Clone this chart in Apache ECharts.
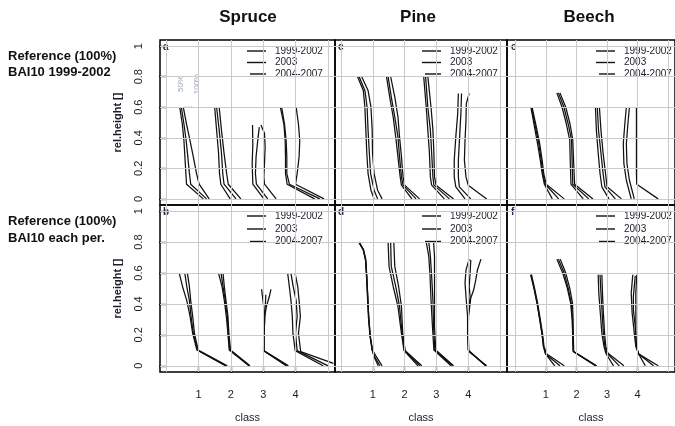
<!DOCTYPE html>
<html><head><meta charset="utf-8">
<script src="https://cdn.jsdelivr.net/npm/echarts@6/dist/echarts.min.js"></script>
<style>html,body{margin:0;padding:0;background:#fff}#c{width:675px;height:426px}</style>
</head><body><div id="c"></div><script>
const species = ['Spruce', 'Pine', 'Beech'];
const rowLabels = [['Reference (100%)', 'BAI10 1999-2002'], ['Reference (100%)', 'BAI10 each per.']];
const periods = ['1999-2002', '2003', '2004-2007'];
const panelLetters = ['a', 'c', 'e', 'b', 'd', 'f'];
const classTicks = [1, 2, 3, 4];
const yTicks = [0, 0.2, 0.4, 0.6, 0.8, 1];
const xGridVals = [0, 1, 2, 3, 4, 5];

// profiles: [class][period] -> [[x, relHeight], ...]
const spruceRef = [
 [[[0.42,0.6],[0.50,0.49],[0.55,0.38],[0.58,0.275],[0.61,0.166],[0.63,0.096],[1.15,0]],
  [[0.47,0.6],[0.55,0.49],[0.62,0.38],[0.67,0.275],[0.72,0.166],[0.76,0.096],[1.25,0]],
  [[0.53,0.6],[0.63,0.49],[0.74,0.38],[0.84,0.275],[0.94,0.166],[1.02,0.096],[1.33,0]]],
 [[[1.50,0.6],[1.56,0.45],[1.62,0.30],[1.65,0.166],[1.69,0.096],[1.98,0]],
  [[1.56,0.6],[1.64,0.45],[1.71,0.30],[1.75,0.166],[1.79,0.096],[2.16,0]],
  [[1.64,0.6],[1.71,0.45],[1.79,0.30],[1.87,0.166],[1.92,0.096],[2.31,0]]],
 [[[2.67,0.483],[2.68,0.36],[2.66,0.23],[2.68,0.096],[3.02,0]],
  [[2.88,0.47],[2.83,0.38],[2.78,0.275],[2.76,0.166],[2.79,0.096],[3.14,0]],
  [[2.93,0.483],[3.04,0.43],[3.06,0.34],[3.04,0.23],[3.02,0.144],[3.04,0.096],[3.40,0]]],
 [[[3.53,0.6],[3.64,0.49],[3.68,0.38],[3.69,0.275],[3.69,0.166],[3.74,0.096],[4.59,0]],
  [[3.57,0.6],[3.66,0.49],[3.71,0.38],[3.73,0.275],[3.73,0.166],[3.81,0.096],[4.75,0]],
  [[4.02,0.6],[4.09,0.49],[4.13,0.38],[4.11,0.275],[4.05,0.166],[4.00,0.096],[4.88,0]]]
];
const pineRef = [
 [[[0.52,0.8],[0.70,0.71],[0.75,0.6],[0.78,0.45],[0.81,0.3],[0.85,0.166],[0.94,0.057],[1.04,0]],
  [[0.57,0.8],[0.75,0.71],[0.82,0.6],[0.85,0.45],[0.89,0.3],[0.93,0.166],[1.04,0.057],[1.15,0]],
  [[0.65,0.8],[0.85,0.71],[0.94,0.6],[0.98,0.45],[0.99,0.3],[1.04,0.166],[1.15,0.057],[1.29,0]]],
 [[[1.43,0.8],[1.53,0.668],[1.64,0.537],[1.72,0.406],[1.79,0.275],[1.86,0.144],[1.90,0.09],[2.23,0]],
  [[1.48,0.8],[1.58,0.668],[1.69,0.537],[1.79,0.406],[1.84,0.275],[1.90,0.144],[1.95,0.09],[2.36,0]],
  [[1.56,0.8],[1.69,0.668],[1.79,0.537],[1.84,0.406],[1.90,0.275],[1.95,0.144],[2.00,0.09],[2.47,0]]],
 [[[2.60,0.8],[2.68,0.6],[2.73,0.45],[2.78,0.3],[2.81,0.144],[2.85,0.09],[3.25,0]],
  [[2.66,0.8],[2.73,0.6],[2.81,0.45],[2.85,0.3],[2.89,0.144],[2.92,0.09],[3.41,0]],
  [[2.73,0.8],[2.83,0.6],[2.89,0.45],[2.92,0.3],[2.94,0.144],[2.99,0.09],[3.54,0]]],
 [[[3.69,0.69],[3.67,0.56],[3.61,0.406],[3.56,0.253],[3.56,0.144],[3.61,0.079],[3.90,0]],
  [[3.79,0.69],[3.77,0.56],[3.73,0.406],[3.69,0.253],[3.69,0.144],[3.72,0.079],[4.08,0]],
  [[4.03,0.69],[3.94,0.624],[3.93,0.515],[3.90,0.384],[3.88,0.253],[3.93,0.144],[4.00,0.09],[4.58,0]]]
];
const beechRef = [
 [[[0.51,0.6],[0.63,0.47],[0.73,0.36],[0.82,0.25],[0.88,0.166],[0.95,0.096],[1.21,0]],
  [[0.53,0.6],[0.66,0.47],[0.77,0.36],[0.85,0.25],[0.90,0.166],[0.98,0.096],[1.42,0]],
  [[0.55,0.6],[0.69,0.47],[0.80,0.36],[0.88,0.25],[0.93,0.166],[1.01,0.096],[1.60,0]]],
 [[[1.36,0.694],[1.53,0.6],[1.67,0.49],[1.78,0.384],[1.80,0.23],[1.82,0.096],[2.22,0]],
  [[1.41,0.694],[1.59,0.6],[1.73,0.49],[1.84,0.384],[1.86,0.23],[1.88,0.096],[2.40,0]],
  [[1.46,0.694],[1.65,0.6],[1.79,0.49],[1.88,0.384],[1.91,0.23],[1.94,0.096],[2.54,0]]],
 [[[2.62,0.6],[2.65,0.45],[2.71,0.3],[2.77,0.166],[2.83,0.079],[3.06,0]],
  [[2.68,0.6],[2.72,0.45],[2.80,0.3],[2.87,0.166],[2.93,0.079],[3.27,0]],
  [[2.75,0.6],[2.80,0.45],[2.87,0.3],[2.95,0.166],[3.00,0.079],[3.47,0]]],
 [[[3.63,0.6],[3.58,0.49],[3.53,0.36],[3.55,0.23],[3.63,0.122],[3.79,0]],
  [[3.73,0.6],[3.68,0.49],[3.63,0.36],[3.65,0.23],[3.73,0.122],[3.89,0]],
  [[3.96,0.6],[3.96,0.45],[3.96,0.3],[3.96,0.166],[3.97,0.096],[4.67,0]]]
];
const spruceEach = [
 [[[0.41,0.595],[0.51,0.51],[0.64,0.42],[0.74,0.32],[0.82,0.21],[0.95,0.102],[1.83,0]],
  [[0.58,0.595],[0.64,0.51],[0.72,0.42],[0.77,0.32],[0.84,0.21],[0.97,0.102],[1.86,0]],
  [[0.66,0.595],[0.72,0.51],[0.76,0.42],[0.82,0.32],[0.875,0.21],[0.99,0.102],[1.89,0]]],
 [[[1.625,0.595],[1.73,0.51],[1.80,0.42],[1.86,0.32],[1.91,0.21],[1.95,0.102],[2.56,0]],
  [[1.70,0.595],[1.76,0.51],[1.83,0.42],[1.89,0.32],[1.92,0.21],[1.97,0.102],[2.58,0]],
  [[1.76,0.595],[1.80,0.51],[1.85,0.42],[1.91,0.32],[1.94,0.21],[1.99,0.102],[2.59,0]]],
 [[[2.95,0.495],[2.99,0.427],[3.04,0.34],[3.02,0.21],[3.01,0.098],[3.71,0]],
  [[3.08,0.46],[3.07,0.405],[3.05,0.34],[3.03,0.21],[3.02,0.098],[3.76,0]],
  [[3.24,0.495],[3.19,0.448],[3.10,0.384],[3.05,0.32],[3.03,0.21],[3.03,0.098],[3.78,0]]],
 [[[3.76,0.595],[3.81,0.51],[3.86,0.42],[3.90,0.32],[3.92,0.21],[3.99,0.098],[4.85,0]],
  [[3.86,0.595],[3.93,0.51],[4.02,0.42],[4.05,0.32],[4.00,0.21],[4.05,0.098],[5.01,0]],
  [[3.99,0.595],[4.07,0.51],[4.11,0.42],[4.15,0.32],[4.09,0.21],[4.16,0.092],[5.17,0.016]]]
];
const pineEach = [
 [[[0.56,0.8],[0.70,0.75],[0.77,0.686],[0.80,0.578],[0.83,0.448],[0.86,0.319],[0.91,0.19],[0.98,0.102],[1.04,0.059],[1.17,0]],
  [[0.57,0.8],[0.71,0.75],[0.78,0.686],[0.81,0.578],[0.84,0.448],[0.87,0.319],[0.92,0.19],[0.98,0.102],[1.06,0.059],[1.22,0]],
  [[0.56,0.8],[0.70,0.75],[0.77,0.686],[0.81,0.578],[0.84,0.448],[0.87,0.319],[0.92,0.19],[0.99,0.102],[1.11,0.059],[1.29,0]]],
 [[[1.48,0.8],[1.51,0.643],[1.64,0.513],[1.79,0.384],[1.90,0.21],[1.98,0.098],[2.42,0]],
  [[1.56,0.8],[1.58,0.643],[1.72,0.513],[1.84,0.384],[1.92,0.21],[2.00,0.098],[2.48,0]],
  [[1.66,0.8],[1.69,0.643],[1.81,0.513],[1.90,0.384],[1.94,0.21],[2.02,0.098],[2.54,0]]],
 [[[2.68,0.8],[2.76,0.708],[2.80,0.578],[2.83,0.427],[2.875,0.254],[2.92,0.102],[3.46,0]],
  [[2.76,0.8],[2.81,0.708],[2.85,0.578],[2.89,0.427],[2.91,0.254],[2.95,0.102],[3.51,0]],
  [[2.91,0.8],[2.94,0.708],[2.94,0.578],[2.94,0.427],[2.94,0.254],[2.98,0.102],[3.54,0]]],
 [[[4.03,0.69],[3.93,0.62],[3.90,0.535],[3.93,0.448],[3.98,0.319],[3.98,0.21],[4.00,0.102],[4.55,0]],
  [[4.08,0.685],[4.06,0.60],[4.03,0.513],[4.06,0.448],[4.00,0.319],[3.99,0.21],[4.01,0.098],[4.55,0]],
  [[4.40,0.69],[4.29,0.62],[4.24,0.557],[4.17,0.49],[4.08,0.438],[4.01,0.319],[4.00,0.21],[4.02,0.092],[4.58,0]]]
];
const beechEach = [
 [[[0.505,0.589],[0.61,0.503],[0.71,0.405],[0.80,0.297],[0.87,0.21],[0.92,0.124],[0.99,0.077],[1.29,0]],
  [[0.51,0.589],[0.615,0.503],[0.715,0.405],[0.805,0.297],[0.875,0.21],[0.925,0.124],[0.99,0.077],[1.46,0]],
  [[0.53,0.589],[0.63,0.503],[0.73,0.405],[0.82,0.297],[0.89,0.21],[0.94,0.124],[1.03,0.077],[1.60,0]]],
 [[[1.36,0.69],[1.55,0.6],[1.70,0.503],[1.81,0.405],[1.86,0.297],[1.88,0.167],[1.89,0.092],[2.62,0]],
  [[1.41,0.69],[1.60,0.6],[1.73,0.503],[1.83,0.405],[1.87,0.297],[1.88,0.167],[1.90,0.092],[2.64,0]],
  [[1.47,0.69],[1.65,0.6],[1.78,0.503],[1.87,0.405],[1.89,0.297],[1.90,0.167],[1.91,0.092],[2.66,0]]],
 [[[2.71,0.589],[2.73,0.47],[2.78,0.34],[2.83,0.21],[2.90,0.124],[2.96,0.081],[3.21,0]],
  [[2.77,0.589],[2.80,0.47],[2.84,0.34],[2.88,0.21],[2.93,0.124],[3.00,0.081],[3.40,0]],
  [[2.83,0.589],[2.85,0.47],[2.88,0.34],[2.92,0.21],[2.96,0.124],[3.03,0.081],[3.55,0]]],
 [[[3.84,0.589],[3.79,0.47],[3.82,0.34],[3.89,0.21],[3.94,0.124],[4.03,0.077],[4.25,0]],
  [[3.92,0.582],[3.86,0.448],[3.86,0.362],[3.92,0.254],[3.96,0.124],[4.03,0.077],[4.52,0]],
  [[3.97,0.589],[3.94,0.47],[3.94,0.34],[3.94,0.21],[3.96,0.124],[4.03,0.077],[4.67,0]]]
];

const panels = [spruceRef, pineRef, beechRef, spruceEach, pineEach, beechEach];

const FONT = 'Arial, "Liberation Sans", sans-serif';
const TXT = '#1c1c28';
// layout
const colLeft = [160, 335, 507];
const colWidth = [175, 172, 175.7];
const xMin = [-0.19, -0.19, -0.27];
const xMax = 5.22;
const rowTop = [40, 205];
const rowHeight = [165, 167];

const grid = [], xAxis = [], yAxis = [], series = [], graphic = [];
for (let i = 0; i < 6; i++) {
  const r = Math.floor(i / 3), c = i % 3;
  grid.push({left: colLeft[c], top: rowTop[r], width: colWidth[c], height: rowHeight[r],
    show: true, borderColor: '#000', borderWidth: 1.5, backgroundColor: 'transparent', containLabel: false});
  const bottomRow = r === 1;
  xAxis.push({type: 'value', gridIndex: i, min: xMin[c], max: xMax,
    axisLine: {show: false}, splitLine: {show: false},
    axisTick: {show: bottomRow, customValues: classTicks, length: 7, inside: false, lineStyle: {color: '#000', width: 1.3}},
    axisLabel: {show: bottomRow, customValues: classTicks, margin: 17, fontSize: 11, fontFamily: FONT, color: TXT},
    name: bottomRow ? 'class' : '', nameLocation: 'middle', nameGap: 40,
    nameTextStyle: {fontSize: 11, fontFamily: FONT, color: TXT}});
  const leftCol = c === 0;
  yAxis.push({type: 'value', gridIndex: i, min: -0.04, max: 1.04,
    axisLine: {show: false}, splitLine: {show: false},
    axisTick: {show: leftCol, customValues: yTicks, length: 7, inside: false, lineStyle: {color: '#000', width: 1.3}},
    axisLabel: {show: leftCol, customValues: yTicks, rotate: 90, margin: 16, fontSize: 11, fontFamily: FONT, color: TXT},
    name: leftCol ? 'rel.height []' : '', nameLocation: 'middle', nameGap: 37,
    nameTextStyle: {fontSize: 11, fontWeight: 'bold', fontFamily: FONT, color: TXT}});
  // grid lines
  series.push({type: 'line', xAxisIndex: i, yAxisIndex: i, data: [], z: 1, silent: true, animation: false,
    markLine: {silent: true, symbol: 'none', animation: false, label: {show: false},
      lineStyle: {color: '#cacaca', width: 1, type: 'solid'},
      emphasis: {disabled: true},
      data: xGridVals.map(v => ({xAxis: v})).concat(yTicks.map(v => ({yAxis: v})))}});
  panels[i].forEach(cls => cls.forEach((prof, p) => {
    series.push({type: 'line', name: periods[p], xAxisIndex: i, yAxisIndex: i, data: prof,
      symbol: 'none', showSymbol: false, z: 3, silent: true, animation: false,
      lineStyle: {color: '#111', width: 1.25}});
  }));
  // legend
  const L = colLeft[c] + (c === 2 ? 2 : 0);
  const ly = r === 0 ? [51, 62.5, 74] : [216, 229, 241.5];
  periods.forEach((p, k) => {
    graphic.push({type: 'line', silent: true, shape: {x1: L + (k === 2 ? 90 : 87), y1: ly[k], x2: L + 106, y2: ly[k]},
      style: {stroke: '#111', lineWidth: 1.4}});
    graphic.push({type: 'text', silent: true, x: L + 115, y: ly[k],
      style: {text: p, font: '10px ' + FONT, fill: TXT, align: 'left', verticalAlign: 'middle', textAlign: 'left', textVerticalAlign: 'middle'}});
  });
  graphic.push({type: 'text', silent: true, x: colLeft[c] + (c === 2 ? 4 : 3), y: rowTop[r] + 7,
    style: {text: panelLetters[i], font: 'bold 10px ' + FONT, fill: '#1f2a44', align: 'left', verticalAlign: 'middle', textAlign: 'left', textVerticalAlign: 'middle'}});
}
// column titles
const titleX = [248, 418, 589];
species.forEach((s, k) => graphic.push({type: 'text', silent: true, x: titleX[k], y: 17,
  style: {text: s, font: 'bold 17px ' + FONT, fill: '#111', align: 'center', verticalAlign: 'middle', textAlign: 'center', textVerticalAlign: 'middle'}}));
// row labels
const rowLabelY = [[56, 72], [221, 238]];
rowLabels.forEach((lines, r) => lines.forEach((t, k) => graphic.push({type: 'text', silent: true, x: 8, y: rowLabelY[r][k],
  style: {text: t, font: 'bold 13px ' + FONT, fill: '#111', align: 'left', verticalAlign: 'middle', textAlign: 'left', textVerticalAlign: 'middle'}})));
// 50% / 100% annotation in panel a
[['50%', 180.5], ['100%', 197]].forEach(([t, x]) => graphic.push({type: 'text', silent: true, x: x, y: 84, rotation: Math.PI / 2,
  style: {text: t, font: '8px ' + FONT, fill: '#9aa3b6', align: 'center', verticalAlign: 'middle', textAlign: 'center', textVerticalAlign: 'middle'}}));
graphic.push({type: 'line', silent: true, shape: {x1: 185, y1: 107, x2: 193, y2: 107}, style: {stroke: '#8a8f9c', lineWidth: 1, lineDash: [1, 2]}});

const chart = echarts.init(document.getElementById('c'), null, {renderer: 'canvas'});
chart.setOption({animation: false, backgroundColor: '#fff', grid, xAxis, yAxis, series, graphic});
</script></body></html>
